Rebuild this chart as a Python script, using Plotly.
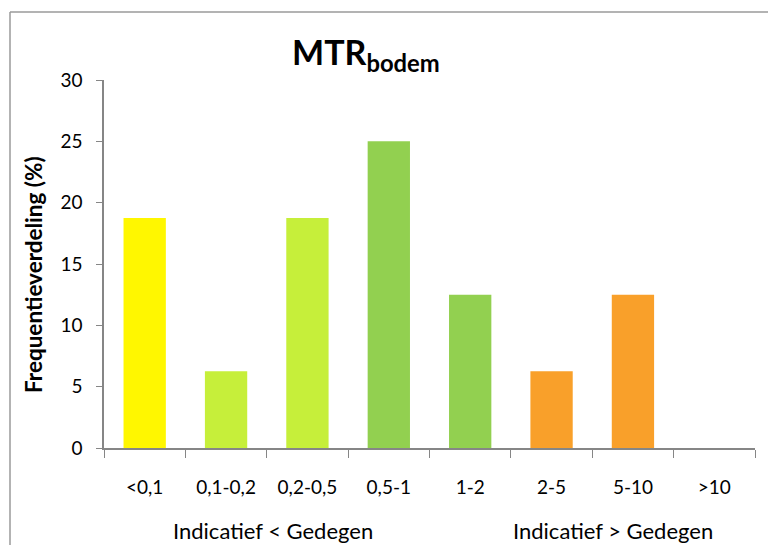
import plotly.graph_objects as go

categories = ["<0,1", "0,1-0,2", "0,2-0,5", "0,5-1", "1-2", "2-5", "5-10", ">10"]
values = [18.75, 6.25, 18.75, 25.0, 12.5, 6.25, 12.5, 0.0]
bar_colors = ["#FFF700", "#C6EF3A", "#C6EF3A", "#92D050", "#92D050", "#F9A02A", "#F9A02A", "#F9A02A"]
y_ticks = [0, 5, 10, 15, 20, 25, 30]
title_main = "MTR"
title_sub = "bodem"
y_title = "Frequentieverdeling (%)"
group_labels = ["Indicatief < Gedegen", "Indicatief > Gedegen"]

W, H = 768, 545
L, R, T, B = 104, 13, 80, 97
pw = W - L - R
ph = H - T - B

def px_x(x):
    return (x - L) / pw

def px_y(y):
    return (H - B - y) / ph

FONT = "Lato"
AXC = "#868686"

fig = go.Figure(go.Bar(
    x=categories, y=values, marker=dict(color=bar_colors, line=dict(width=0)),
    width=0.52, hoverinfo="x+y",
))

fig.update_layout(
    width=W, height=H,
    margin=dict(l=L, r=R, t=T, b=B, pad=0),
    paper_bgcolor="white", plot_bgcolor="white",
    showlegend=False,
    font=dict(family=FONT, size=19, color="#000000"),
    xaxis=dict(
        type="category", showgrid=False, showline=True, linecolor=AXC, linewidth=1.5,
        ticks="outside", tickson="boundaries", ticklen=8, tickcolor=AXC, tickwidth=1,
        tickfont=dict(family=FONT, size=19), ticklabelstandoff=21,
        range=[-0.5, 7.5], fixedrange=True,
    ),
    yaxis=dict(
        range=[0, 30], tickvals=y_ticks, showgrid=False, zeroline=False,
        showline=True, linecolor=AXC, linewidth=1.5,
        ticks="outside", ticklen=6, tickcolor=AXC, tickwidth=1,
        tickfont=dict(family=FONT, size=19), ticklabelstandoff=10,
        fixedrange=True,
    ),
)

annotations = [
    dict(text=f"<b>{title_main}<sub>{title_sub}</sub></b>", xref="paper", yref="paper",
         x=px_x(366), y=px_y(54), xanchor="center", yanchor="middle", showarrow=False,
         font=dict(family=FONT, size=34, color="#000000")),
    dict(text=f"<b>{y_title}</b>", xref="paper", yref="paper", textangle=-90,
         x=px_x(33), y=px_y(275), xanchor="center", yanchor="middle", showarrow=False,
         font=dict(family=FONT, size=22.5, color="#000000")),
    dict(text=group_labels[0], xref="paper", yref="paper",
         x=px_x(273), y=px_y(530), xanchor="center", yanchor="middle", showarrow=False,
         font=dict(family=FONT, size=22, color="#000000")),
    dict(text=group_labels[1], xref="paper", yref="paper",
         x=px_x(613), y=px_y(530), xanchor="center", yanchor="middle", showarrow=False,
         font=dict(family=FONT, size=22, color="#000000")),
]
fig.update_layout(annotations=annotations)

# chart frame (left and top edges visible)
fig.add_shape(type="line", xref="paper", yref="paper",
              x0=px_x(10), y0=px_y(545), x1=px_x(10), y1=px_y(12),
              line=dict(color="#9A9A9A", width=1.5), layer="above")
fig.add_shape(type="line", xref="paper", yref="paper",
              x0=px_x(10), y0=px_y(12), x1=px_x(768), y1=px_y(12),
              line=dict(color="#9A9A9A", width=1.5), layer="above")

fig.write_html(
    "out.html",
    config={"displayModeBar": False},
    post_script="document.body.style.margin='0';document.body.style.overflow='hidden';",
)
